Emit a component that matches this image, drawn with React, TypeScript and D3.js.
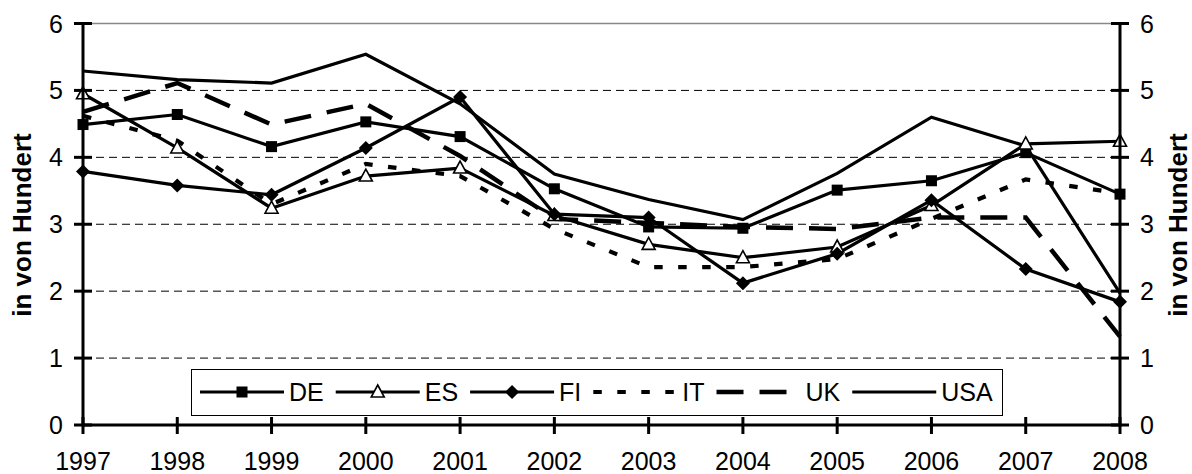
import React, { useMemo } from "react";
import * as d3 from "d3";

// Annual rates, 1997–2008, in per cent
const years = [1997, 1998, 1999, 2000, 2001, 2002, 2003, 2004, 2005, 2006, 2007, 2008];
const yTicks = [0, 1, 2, 3, 4, 5, 6];

const seriesDE = [4.49, 4.64, 4.16, 4.53, 4.31, 3.53, 2.96, 2.94, 3.51, 3.65, 4.07, 3.45];
const seriesES = [4.95, 4.14, 3.24, 3.72, 3.84, 3.13, 2.7, 2.5, 2.66, 3.28, 4.2, 4.24];
const seriesFI = [3.79, 3.58, 3.44, 4.14, 4.9, 3.15, 3.1, 2.12, 2.56, 3.36, 2.33, 1.84];
const seriesIT = [4.62, 4.25, 3.3, 3.9, 3.72, 2.93, 2.36, 2.36, 2.48, 3.08, 3.67, 3.46];
const seriesUK = [4.68, 5.11, 4.49, 4.8, 4.02, 3.08, 3.02, 2.96, 2.93, 3.1, 3.1, 1.32];
const seriesUSA = [5.29, 5.16, 5.11, 5.54, 4.8, 3.75, 3.37, 3.07, 3.76, 4.6, 4.17, 1.97];

const axisTitle = "in von Hundert";

type Marker = "square" | "triangle" | "diamond" | "none";
interface Series {
  name: string;
  values: number[];
  marker: Marker;
  dash: string | null;
  width: number;
}

const series: Series[] = [
  { name: "DE", values: seriesDE, marker: "square", dash: null, width: 3.2 },
  { name: "ES", values: seriesES, marker: "triangle", dash: null, width: 3.2 },
  { name: "FI", values: seriesFI, marker: "diamond", dash: null, width: 3.2 },
  { name: "IT", values: seriesIT, marker: "none", dash: "8.5,15.5", width: 4.2 },
  { name: "UK", values: seriesUK, marker: "none", dash: "27,16", width: 4.5 },
  { name: "USA", values: seriesUSA, marker: "none", dash: null, width: 3.2 },
];

const FONT = "'Liberation Sans', Arial, sans-serif";
const W = 1192;
const H = 474;
const left = 83;
const right = 1120;
const top = 23.5;
const bottom = 425;

function MarkerShape({ kind, x, y }: { kind: Marker; x: number; y: number }) {
  if (kind === "square") {
    return <rect x={x - 5.5} y={y - 5.5} width={11} height={11} fill="#000" />;
  }
  if (kind === "triangle") {
    const p = d3.path();
    p.moveTo(x, y - 7);
    p.lineTo(x + 6.5, y + 5);
    p.lineTo(x - 6.5, y + 5);
    p.closePath();
    return <path d={p.toString()} fill="#fff" stroke="#000" strokeWidth={1.6} />;
  }
  if (kind === "diamond") {
    const p = d3.path();
    p.moveTo(x, y - 7);
    p.lineTo(x + 7, y);
    p.lineTo(x, y + 7);
    p.lineTo(x - 7, y);
    p.closePath();
    return <path d={p.toString()} fill="#000" />;
  }
  return null;
}

function textWidth(s: string, font: string): number {
  const c = document.createElement("canvas").getContext("2d");
  if (!c) return s.length * 14;
  c.font = font;
  return c.measureText(s).width;
}

export default function App() {
  const x = d3.scaleLinear().domain([years[0], years[years.length - 1]]).range([left, right]);
  const y = d3.scaleLinear().domain([0, 6]).range([bottom, top]);

  const line = d3
    .line<number>()
    .x((_, i) => x(years[i]))
    .y((v) => y(v))
    .curve(d3.curveLinear);

  // Legend layout: sample line, then label, items placed one after another
  const legendItems = useMemo(() => {
    let cursor = 200;
    return series.map((s) => {
      const w = textWidth(s.name, `25px ${FONT}`);
      const item = { s, x0: cursor, x1: cursor + 84, tx: cursor + 89 };
      cursor += 89 + w + 12;
      return item;
    });
  }, []);

  const legendY = 392;

  return (
    <svg
      width={W}
      height={H}
      style={{ position: "absolute", left: 0, top: 0, background: "#fff" }}
      fontFamily={FONT}
    >
      {/* gridlines */}
      {yTicks
        .filter((t) => t > 0 && t < 6)
        .map((t) => (
          <line
            key={t}
            x1={left}
            x2={right}
            y1={y(t)}
            y2={y(t)}
            stroke="#000"
            strokeWidth={1}
            strokeDasharray="8,5"
          />
        ))}
      <line x1={left} x2={right} y1={y(6)} y2={y(6)} stroke="#888" strokeWidth={1.5} />

      {/* series */}
      {series.map((s) => (
        <path
          key={s.name}
          d={line(s.values) || ""}
          fill="none"
          stroke="#000"
          strokeWidth={s.width}
          strokeDasharray={s.dash ?? undefined}
          strokeLinejoin="miter"
        />
      ))}
      {series.map((s) =>
        s.values.map((v, i) => (
          <MarkerShape key={`${s.name}-${i}`} kind={s.marker} x={x(years[i])} y={y(v)} />
        ))
      )}

      {/* axes */}
      <line x1={left} x2={left} y1={top - 1} y2={bottom + 1.5} stroke="#000" strokeWidth={3} />
      <line x1={right} x2={right} y1={top - 1} y2={bottom + 1.5} stroke="#000" strokeWidth={3} />
      <line x1={left} x2={right} y1={bottom} y2={bottom} stroke="#000" strokeWidth={3} />
      {yTicks.map((t) => (
        <g key={t}>
          <line x1={left - 9} x2={left + 9} y1={y(t)} y2={y(t)} stroke="#000" strokeWidth={3} />
          <line x1={right - 9} x2={right + 9} y1={y(t)} y2={y(t)} stroke="#000" strokeWidth={3} />
          <text x={63} y={y(t)} fontSize={25} textAnchor="end" dominantBaseline="central">
            {t}
          </text>
          <text x={1140} y={y(t)} fontSize={25} textAnchor="start" dominantBaseline="central">
            {t}
          </text>
        </g>
      ))}
      {years.map((yr) => (
        <g key={yr}>
          <line x1={x(yr)} x2={x(yr)} y1={bottom - 8} y2={bottom + 9} stroke="#000" strokeWidth={3} />
          <text x={x(yr)} y={470} fontSize={25} textAnchor="middle">
            {yr}
          </text>
        </g>
      ))}

      {/* axis titles */}
      <text
        transform={`translate(31,225) rotate(-90)`}
        fontSize={26}
        fontWeight="bold"
        textAnchor="middle"
      >
        {axisTitle}
      </text>
      <text
        transform={`translate(1187,225) rotate(-90)`}
        fontSize={26}
        fontWeight="bold"
        textAnchor="middle"
      >
        {axisTitle}
      </text>

      {/* legend */}
      <rect x={191.5} y={369.5} width={811} height={46} fill="#fff" stroke="#000" strokeWidth={1} />
      {legendItems.map(({ s, x0, x1, tx }) => (
        <g key={s.name}>
          <line
            x1={x0}
            x2={x1}
            y1={legendY}
            y2={legendY}
            stroke="#000"
            strokeWidth={s.width}
            strokeDasharray={s.dash ?? undefined}
          />
          <MarkerShape kind={s.marker} x={(x0 + x1) / 2} y={legendY} />
          <text x={tx} y={legendY} fontSize={25} dominantBaseline="central">
            {s.name}
          </text>
        </g>
      ))}
    </svg>
  );
}
